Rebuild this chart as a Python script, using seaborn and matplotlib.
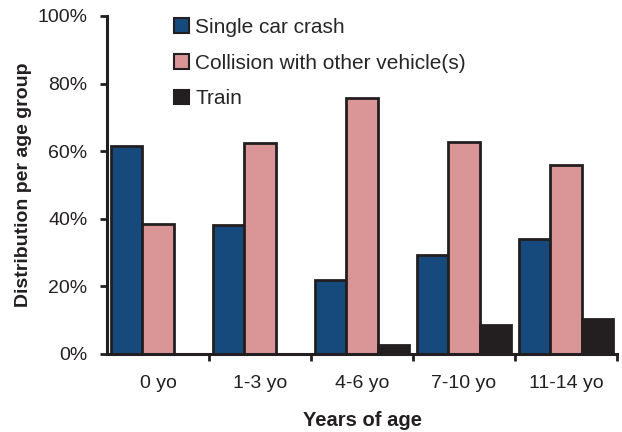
import matplotlib
matplotlib.use("Agg")
import matplotlib.pyplot as plt
import pandas as pd
import seaborn as sns
from matplotlib.ticker import FuncFormatter, FixedLocator

age_groups = ["0 yo", "1-3 yo", "4-6 yo", "7-10 yo", "11-14 yo"]
single_car = [61.5, 38.0, 21.8, 29.3, 34.0]
collision = [38.5, 62.3, 75.7, 62.7, 56.0]
train = [0.0, 0.0, 2.7, 8.4, 10.3]

series = ["Single car crash", "Collision with other vehicle(s)", "Train"]
colors = ["#164a7c", "#da9696", "#231f20"]

df = pd.DataFrame({
    "age": age_groups * 3,
    "kind": [series[0]] * 5 + [series[1]] * 5 + [series[2]] * 5,
    "pct": single_car + collision + train,
})

sns.set_theme(style="white")
plt.rcParams["font.family"] = ["Liberation Sans", "DejaVu Sans"]

fig = plt.figure(figsize=(6.22, 4.32), dpi=100)
ax = fig.add_axes([0.172, 0.181, 0.820, 0.782])

sns.barplot(
    data=df, x="age", y="pct", hue="kind",
    hue_order=series, order=age_groups,
    palette=dict(zip(series, colors)),
    width=0.92, gap=0, edgecolor="#231f20", linewidth=2.0,
    saturation=1, ax=ax,
)

ax.set_ylim(0, 100)
ax.set_xlim(-0.5, len(age_groups) - 0.5)
ax.set_yticks([0, 20, 40, 60, 80, 100])
ax.yaxis.set_major_formatter(FuncFormatter(lambda v, _: f"{int(v)}%"))
ax.xaxis.set_minor_locator(FixedLocator([i + 0.5 for i in range(len(age_groups))]))
ax.tick_params(axis="x", which="major", length=0, pad=15, labelsize=14, colors="#231f20")
ax.tick_params(axis="x", which="minor", bottom=True, length=5, width=2, direction="out", color="#231f20")
ax.tick_params(axis="y", left=True, length=5, width=2, direction="out", labelsize=14,
               color="#231f20", labelcolor="#231f20", pad=9)

for side in ["top", "right"]:
    ax.spines[side].set_visible(False)
for side in ["left", "bottom"]:
    ax.spines[side].set_linewidth(2.2)
    ax.spines[side].set_color("#231f20")

ax.set_xlabel("Years of age", fontsize=14.5, fontweight="bold", color="#231f20", labelpad=14)
ax.set_ylabel("Distribution per age group", fontsize=14, fontweight="bold", color="#231f20", labelpad=4)

leg = ax.legend(
    loc="upper left", bbox_to_anchor=(0.095, 1.05), frameon=False,
    fontsize=15, handlelength=0.7, handleheight=0.7, handletextpad=0.3,
    labelspacing=0.8,
)
for h in leg.legend_handles:
    h.set_linewidth(1.5)

fig.savefig("out.png", dpi=100, facecolor="white")
